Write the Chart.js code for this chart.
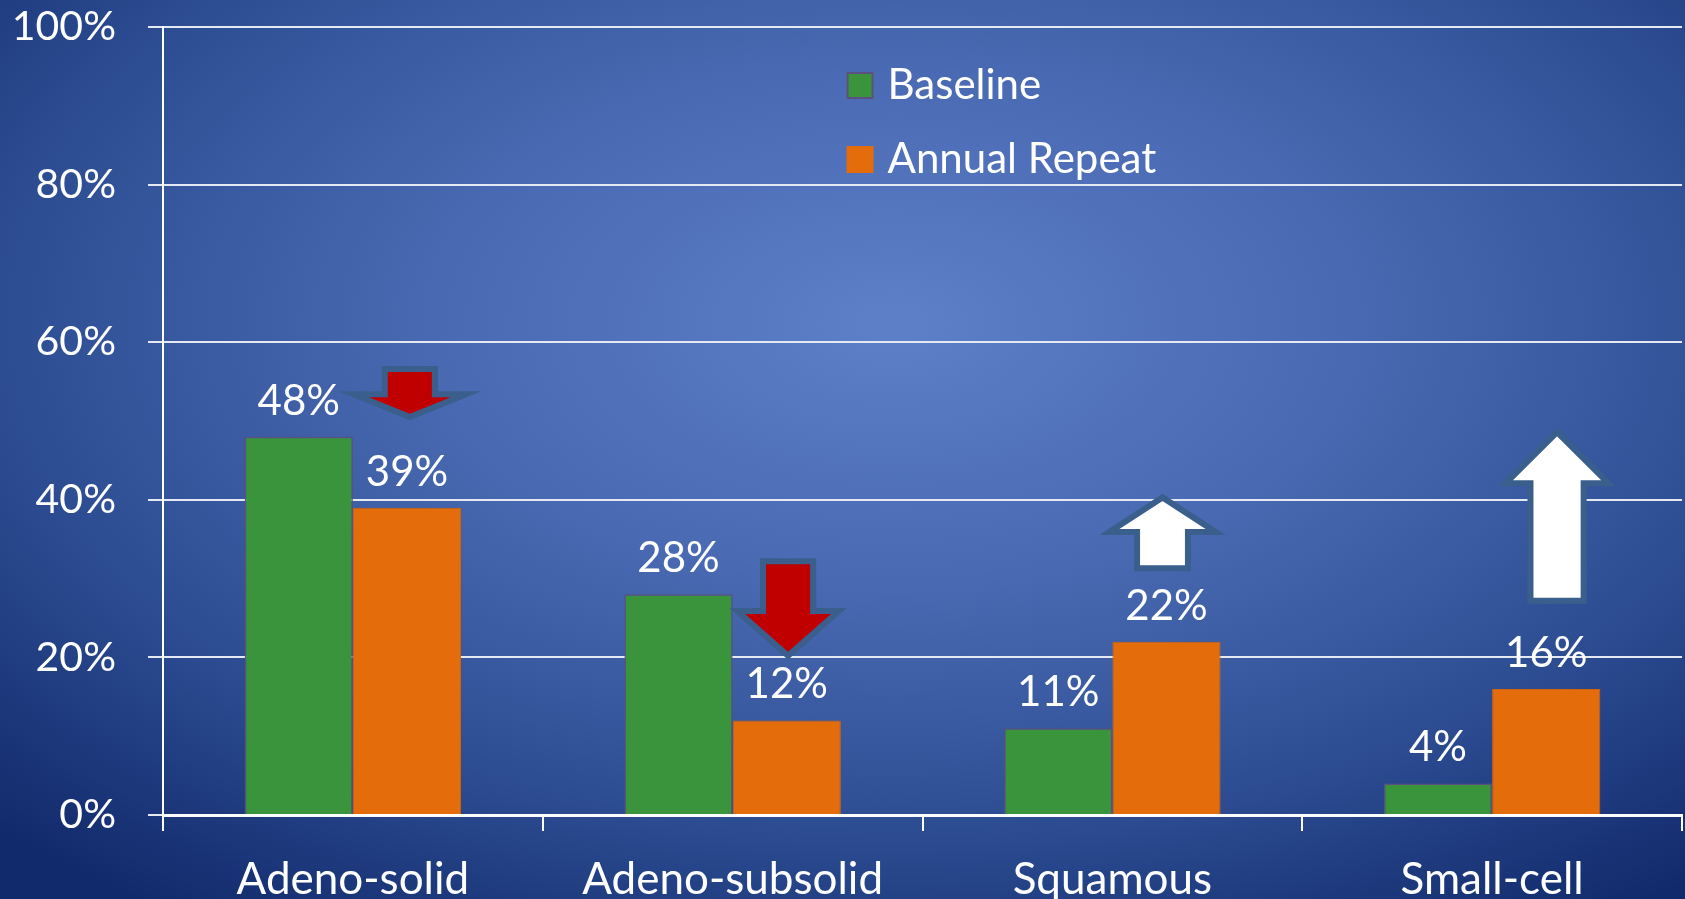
<!DOCTYPE html>
<html>
<head>
<meta charset="utf-8">
<script src="https://cdn.jsdelivr.net/npm/chart.js@4.4.1/dist/chart.umd.min.js"></script>
<style>
html, body { margin: 0; padding: 0; }
body {
    width: 1685px;
    height: 899px;
    overflow: hidden;
    background: radial-gradient(ellipse 75% 80% at 53% 36%, #5d80c9 0%, #4a6ab3 35%, #2f4f95 68%, #112a6b 100%);
}
#wrap { position: relative; width: 1685px; height: 899px; }
</style>
</head>
<body>
<div id="wrap"><canvas id="histChart"></canvas></div>
<script>
// ================= DATOS =================
const categories = ["Adeno-solid", "Adeno-subsolid", "Squamous", "Small-cell"];
const seriesNames = ["Baseline", "Annual Repeat"];
const baselineValues = [48, 28, 11, 4];
const annualValues = [39, 12, 22, 16];
const yTickValues = [0, 20, 40, 60, 80, 100];

const FONT = "Lato, 'Open Sans', sans-serif";
const STROKE = "#3b5f8d";

// flechas de cambio (indice de categoria, posiciones en % del eje)
const changeArrows = [
    { cat: 0, dx: 0.150, dir: "down", base: 56.6, neck: 53.4, tip: 50.5, shaft: 0.066, wing: 0.148, fill: "#c00000" },
    { cat: 1, dx: 0.146, dir: "down", base: 32.2, neck: 25.9, tip: 20.2, shaft: 0.066, wing: 0.134, fill: "#c00000" },
    { cat: 2, dx: 0.132, dir: "up",   base: 31.3, neck: 35.9, tip: 40.3, shaft: 0.067, wing: 0.140, fill: "#ffffff" },
    { cat: 3, dx: 0.171, dir: "up",   base: 27.2, neck: 42.1, tip: 48.6, shaft: 0.070, wing: 0.135, fill: "#ffffff" }
];


// ================= PLUGINS =================
const valueLabels = {
    id: "valueLabels",
    afterDatasetsDraw(chart) {
        const c = chart.ctx;
        c.save();
        c.font = "42px " + FONT;
        c.fillStyle = "#ffffff";
        c.textAlign = "center";
        c.textBaseline = "alphabetic";
        chart.data.datasets.forEach((ds, i) => {
            chart.getDatasetMeta(i).data.forEach((bar, j) => {
                c.fillText(ds.data[j] + "%", bar.x, bar.y - 22);
            });
        });
        c.restore();
    }
};

const arrows = {
    id: "arrows",
    afterDatasetsDraw(chart) {
        const c = chart.ctx;
        const xs = chart.scales.x;
        const ys = chart.scales.y;
        const catW = xs.width / categories.length;

        changeArrows.forEach(a => {
            const cx = xs.getPixelForValue(a.cat) + a.dx * catW;
            const sw = a.shaft * catW;
            const ww = a.wing * catW;
            const yb = ys.getPixelForValue(a.base);
            const yn = ys.getPixelForValue(a.neck);
            const yt = ys.getPixelForValue(a.tip);

            c.save();
            c.beginPath();
            c.moveTo(cx - sw, yb);
            c.lineTo(cx + sw, yb);
            c.lineTo(cx + sw, yn);
            c.lineTo(cx + ww, yn);
            c.lineTo(cx, yt);
            c.lineTo(cx - ww, yn);
            c.lineTo(cx - sw, yn);
            c.closePath();
            c.fillStyle = a.fill;
            c.fill();
            c.lineWidth = 6;
            c.lineJoin = "miter";
            c.strokeStyle = STROKE;
            c.stroke();
            c.restore();
        });
    }
};

const sideLegend = {
    id: "sideLegend",
    afterDraw(chart) {
        const c = chart.ctx;
        const area = chart.chartArea;
        const x0 = area.left + 0.45 * (area.right - area.left);
        const y0 = area.top + 45;
        c.save();
        c.font = "42px " + FONT;
        c.textBaseline = "middle";
        chart.data.datasets.forEach((ds, i) => {
            const y = y0 + i * 74;
            c.fillStyle = ds.backgroundColor;
            c.fillRect(x0, y, 27, 27);
            if (i === 0) {
                c.lineWidth = 2;
                c.strokeStyle = ds.borderColor;
                c.strokeRect(x0 + 1, y + 1, 25, 25);
            }
            c.fillStyle = "#ffffff";
            c.fillText(ds.label, x0 + 41, y + 13);
        });
        c.restore();
    }
};


// ================= GRÁFICA =================
const ctx = document.getElementById("histChart");

const histChart = new Chart(ctx, {
    type: "bar",
    data: {
        labels: categories,
        datasets: [{
            label: seriesNames[0],
            data: baselineValues,
            backgroundColor: "#3a943b",
            borderColor: "#5c4f82",
            borderWidth: 1.5,
            categoryPercentage: 0.57,
            barPercentage: 1.0
        }, {
            label: seriesNames[1],
            data: annualValues,
            backgroundColor: "#e46c0a",
            borderColor: "#d4640c",
            borderWidth: 1,
            categoryPercentage: 0.57,
            barPercentage: 1.0
        }]
    },
    options: {
        responsive: true,
        maintainAspectRatio: false,
        animation: false,
        layout: { padding: { top: 27, right: 3, left: 0, bottom: 0 } },
        plugins: {
            legend: { display: false },
            tooltip: { enabled: false }
        },
        scales: {
            x: {
                ticks: {
                    color: "#ffffff",
                    font: { family: FONT, size: 44 },
                    padding: 22
                },
                grid: {
                    drawOnChartArea: false,
                    color: "#ffffff",
                    lineWidth: 2,
                    tickLength: 16
                },
                border: { color: "#ffffff", width: 3 },
                afterFit(scale) {
                    scale.height = 84;
                    scale.paddingLeft = 0;
                    scale.paddingRight = 0;
                }
            },
            y: {
                min: 0,
                max: 100,
                afterBuildTicks(scale) {
                    scale.ticks = yTickValues.map(v => ({ value: v }));
                },
                ticks: {
                    color: "#ffffff",
                    font: { family: FONT, size: 41 },
                    padding: 32,
                    callback: v => v + "%"
                },
                grid: {
                    color: "#e4e9f3",
                    lineWidth: 2,
                    tickLength: 15
                },
                border: { color: "#ffffff", width: 2 },
                afterFit(scale) {
                    scale.width = 163;
                    scale.paddingTop = 0;
                    scale.paddingBottom = 0;
                }
            }
        }
    },
    plugins: [valueLabels, arrows, sideLegend]
});
</script>
</body>
</html>
